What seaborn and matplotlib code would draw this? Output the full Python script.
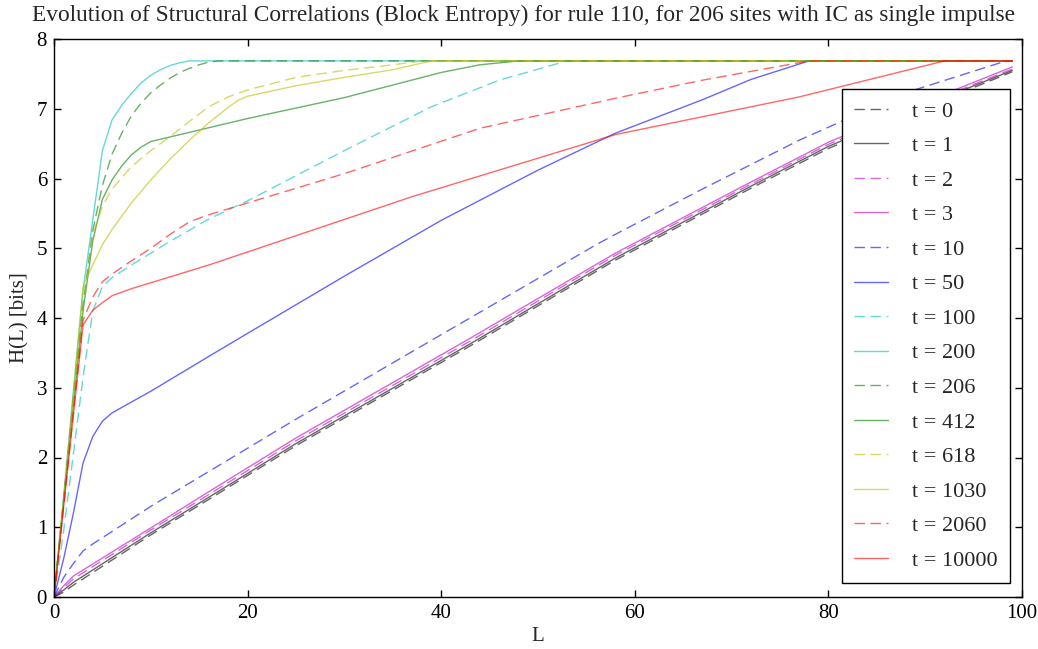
import matplotlib
matplotlib.use("Agg")
import matplotlib.pyplot as plt
import seaborn as sns
import numpy as np

# ---- data ----
L_t0 = [0, 1, 2, 10, 16, 25, 43, 58, 72, 80, 90, 99]
H_t0 = [0, 0.07, 0.17, 0.89, 1.40, 2.17, 3.60, 4.83, 5.86, 6.43, 7.02, 7.53]
L_t1 = [0, 1, 2, 10, 16, 25, 43, 58, 72, 80, 90, 99]
H_t1 = [0, 0.10, 0.21, 0.92, 1.43, 2.20, 3.63, 4.86, 5.89, 6.46, 7.05, 7.55]
L_t2 = [0, 1, 2, 10, 16, 25, 43, 58, 72, 80, 90, 99]
H_t2 = [0, 0.13, 0.26, 0.96, 1.47, 2.24, 3.67, 4.90, 5.92, 6.49, 7.07, 7.57]
L_t3 = [0, 1, 2, 10, 16, 25, 43, 58, 72, 80, 90, 99]
H_t3 = [0, 0.16, 0.30, 0.99, 1.51, 2.28, 3.71, 4.93, 5.95, 6.52, 7.10, 7.60]
L_t10 = [0, 1, 2, 3, 4, 10, 16, 25, 39, 56, 58, 67, 77, 88, 98, 99]
H_t10 = [0, 0.28, 0.48, 0.66, 0.76, 1.30, 1.80, 2.55, 3.68, 5.05, 5.20, 5.85, 6.55, 7.23, 7.67, 7.686]
L_t50 = [0, 1, 2, 3, 4, 5, 6, 10, 16, 20, 30, 40, 50, 58, 67, 72, 78, 99]
H_t50 = [0, 0.55, 1.20, 1.92, 2.30, 2.52, 2.64, 2.95, 3.45, 3.78, 4.60, 5.40, 6.12, 6.65, 7.13, 7.42, 7.686, 7.686]
L_t100 = [0, 1, 2, 3, 4, 5, 6, 8, 10, 12, 14, 16, 20, 30, 39, 46, 53, 99]
H_t100 = [0, 0.95, 2.05, 3.15, 4.10, 4.45, 4.58, 4.76, 4.93, 5.10, 5.26, 5.42, 5.68, 6.40, 7.03, 7.41, 7.686, 7.686]
L_t200 = [0, 1, 2, 3, 4, 5, 6, 7, 8, 9, 10, 11, 12, 13, 14, 99]
H_t200 = [0, 1.45, 2.95, 4.40, 5.40, 6.40, 6.84, 7.05, 7.22, 7.37, 7.48, 7.56, 7.62, 7.66, 7.686, 7.686]
L_t206 = [0, 1, 2, 3, 4, 5, 6, 7, 8, 9, 10, 11, 12, 13, 14, 15, 16, 17, 99]
H_t206 = [0, 1.40, 2.85, 4.20, 5.25, 5.90, 6.35, 6.65, 6.90, 7.08, 7.23, 7.34, 7.44, 7.52, 7.58, 7.63, 7.67, 7.686, 7.686]
L_t412 = [0, 1, 2, 3, 4, 5, 6, 7, 8, 9, 10, 20, 30, 40, 44, 48, 99]
H_t412 = [0, 1.38, 2.75, 4.10, 5.10, 5.70, 5.98, 6.18, 6.34, 6.45, 6.53, 6.86, 7.16, 7.52, 7.63, 7.686, 7.686]
L_t618 = [0, 1, 2, 3, 4, 5, 6, 8, 10, 12, 14, 16, 18, 20, 25, 30, 35, 38, 99]
H_t618 = [0, 1.35, 2.75, 4.15, 5.20, 5.60, 5.85, 6.17, 6.40, 6.60, 6.82, 7.03, 7.17, 7.27, 7.45, 7.55, 7.63, 7.686, 7.686]
L_t1030 = [0, 1, 2, 3, 4, 5, 6, 8, 10, 12, 14, 16, 18, 19, 20, 25, 30, 35, 39, 99]
H_t1030 = [0, 1.40, 2.90, 4.45, 4.76, 5.05, 5.27, 5.65, 5.98, 6.28, 6.55, 6.80, 7.02, 7.12, 7.18, 7.33, 7.45, 7.56, 7.686, 7.686]
L_t2060 = [0, 1, 2, 3, 4, 5, 6, 8, 10, 12, 14, 16, 20, 30, 44, 58, 67, 78, 99]
H_t2060 = [0, 1.30, 2.65, 3.97, 4.30, 4.52, 4.63, 4.82, 5.00, 5.20, 5.38, 5.48, 5.65, 6.07, 6.72, 7.15, 7.41, 7.686, 7.686]
L_t10000 = [0, 1, 2, 3, 4, 5, 6, 8, 16, 37, 58, 77, 92, 99]
H_t10000 = [0, 1.30, 2.60, 3.90, 4.11, 4.22, 4.32, 4.42, 4.76, 5.74, 6.63, 7.17, 7.686, 7.686]

labels = ["t = 0", "t = 1", "t = 2", "t = 3", "t = 10", "t = 50", "t = 100",
          "t = 200", "t = 206", "t = 412", "t = 618", "t = 1030", "t = 2060", "t = 10000"]
colors = ["k", "k", "m", "m", "b", "b", "c", "c", "g", "g", "y", "y", "r", "r"]

series = [(L_t0, H_t0), (L_t1, H_t1), (L_t2, H_t2), (L_t3, H_t3), (L_t10, H_t10),
          (L_t50, H_t50), (L_t100, H_t100), (L_t200, H_t200), (L_t206, H_t206),
          (L_t412, H_t412), (L_t618, H_t618), (L_t1030, H_t1030),
          (L_t2060, H_t2060), (L_t10000, H_t10000)]

x_ticks = [0, 20, 40, 60, 80, 100]
y_ticks = [0, 1, 2, 3, 4, 5, 6, 7, 8]

# ---- style ----
sns.set_style("white")
plt.rcParams.update({
    "font.family": ["Liberation Serif", "DejaVu Serif"],
    "xtick.direction": "in",
    "ytick.direction": "in",
    "xtick.top": True,
    "ytick.right": True,
    "xtick.bottom": True,
    "ytick.left": True,
    "xtick.major.size": 5,
    "ytick.major.size": 5,
    "xtick.major.width": 1,
    "ytick.major.width": 1,
    "xtick.color": "black",
    "ytick.color": "black",
    "axes.edgecolor": "black",
    "axes.linewidth": 1.0,
    "figure.facecolor": "white",
    "savefig.facecolor": "white",
})

fig = plt.figure(figsize=(10.38, 6.49), dpi=100)
ax = fig.add_axes([54 / 1038, 52 / 649, 968 / 1038, 558 / 649])

for i, ((xs, ys), lab, col) in enumerate(zip(series, labels, colors)):
    ls = (0, (7.5, 4)) if i % 2 == 0 else "-"
    sns.lineplot(x=xs, y=ys, ax=ax, color=col, alpha=0.6, linewidth=1.0,
                 linestyle=ls, label=lab, sort=False, errorbar=None, legend=False)

ax.set_xlim(0, 100)
ax.set_ylim(0, 8)
ax.set_xticks(x_ticks)
ax.set_yticks(y_ticks)
ax.tick_params(labelsize=15, pad=5)
ax.set_xlabel("L", fontsize=15, labelpad=3)
ax.set_ylabel("H(L) [bits]", fontsize=15, labelpad=5)
ax.set_title("Evolution of Structural Correlations (Block Entropy) for rule 110, "
             "for 206 sites with IC as single impulse", fontsize=16.8, pad=13, x=0.485)

handles, labs = ax.get_legend_handles_labels()
leg = ax.legend(handles, labs, loc="lower right", bbox_to_anchor=(0.9876, 0.025),
                borderaxespad=0, fontsize=16, frameon=True, fancybox=False,
                edgecolor="black", framealpha=1, handlelength=1.5,
                handletextpad=1.1, labelspacing=0.63, borderpad=0.55)
leg.get_frame().set_linewidth(1.0)

fig.savefig("out.png", dpi=100)
